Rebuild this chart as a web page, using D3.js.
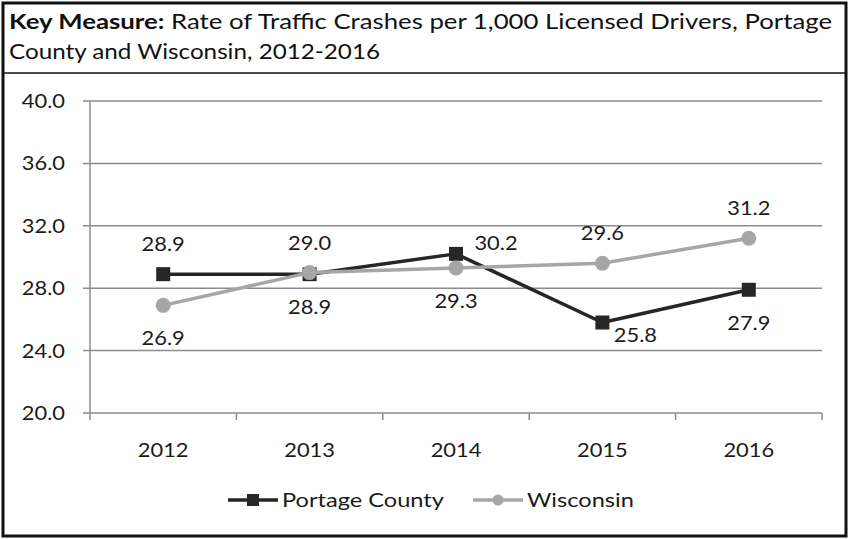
<!DOCTYPE html>
<html>
<head>
<meta charset="utf-8">
<script src="https://cdn.jsdelivr.net/npm/d3@7"></script>
<style>
  body { margin: 0; background: #fff; }
  text { font-family: Lato, "Open Sans", sans-serif; }
  .num { font-size: 19px; }
</style>
</head>
<body>
<div id="svg-container"></div>
<script>
const years = ["2012", "2013", "2014", "2015", "2016"]
const portage = [28.9, 28.9, 30.2, 25.8, 27.9]
const wisconsin = [26.9, 29.0, 29.3, 29.6, 31.2]
const yTicks = [20, 24, 28, 32, 36, 40]

// where each data label sits relative to its marker
const portageLabelPos = ["above", "below", "right", "belowRight", "below"]
const wisconsinLabelPos = ["below", "above", "below", "above", "above"]

const svg = d3.select("#svg-container")
  .append("svg")
    .attr("width", 850)
    .attr("height", 539)

// the source font (Calibri) is drawn wide, so widen glyphs a bit
const stretch = (sel, k) => sel.each(function() {
  const w = this.getComputedTextLength()
  d3.select(this)
    .attr("textLength", w * k)
    .attr("lengthAdjust", "spacingAndGlyphs")
})

// outer frame + title box
svg.append("rect")
  .attr("x", 3).attr("y", 3)
  .attr("width", 843).attr("height", 533)
  .attr("fill", "none")
  .attr("stroke", "#111")
  .attr("stroke-width", 3)

svg.append("line")
  .attr("x1", 3).attr("x2", 846)
  .attr("y1", 73).attr("y2", 73)
  .attr("stroke", "#111")
  .attr("stroke-width", 1.5)

const title1 = svg.append("text")
  .attr("x", 9).attr("y", 29)
  .attr("textLength", 823)
  .attr("lengthAdjust", "spacingAndGlyphs")
  .style("font-size", "21px")
  .attr("fill", "#111")
title1.append("tspan").style("font-weight", "bold").text("Key Measure:")
title1.append("tspan").text(" Rate of Traffic Crashes per 1,000 Licensed Drivers, Portage")

svg.append("text")
  .attr("x", 9).attr("y", 59)
  .attr("textLength", 371)
  .attr("lengthAdjust", "spacingAndGlyphs")
  .style("font-size", "21px")
  .attr("fill", "#111")
  .text("County and Wisconsin, 2012-2016")

const x = d3.scaleBand()
  .domain(years)
  .range([90, 822])

const y = d3.scaleLinear()
  .domain([20, 40])
  .range([413, 101])

// gridlines
svg.append("g")
  .selectAll("line")
  .data(yTicks)
  .join("line")
    .attr("x1", 83)
    .attr("x2", 822)
    .attr("y1", d => y(d))
    .attr("y2", d => y(d))
    .attr("stroke", "#8c8c8c")
    .attr("stroke-width", 1.5)

// y axis line
svg.append("line")
  .attr("x1", 90).attr("x2", 90)
  .attr("y1", y(40)).attr("y2", y(20) + 7)
  .attr("stroke", "#8c8c8c")
  .attr("stroke-width", 1.5)

// x ticks at band edges
svg.append("g")
  .selectAll("line")
  .data(years)
  .join("line")
    .attr("x1", d => x(d) + x.bandwidth())
    .attr("x2", d => x(d) + x.bandwidth())
    .attr("y1", y(20))
    .attr("y2", y(20) + 7)
    .attr("stroke", "#8c8c8c")
    .attr("stroke-width", 1.5)

// y tick labels
svg.append("g")
  .selectAll("text")
  .data(yTicks)
  .join("text")
    .attr("class", "num")
    .attr("x", 65)
    .attr("y", d => y(d) + 7)
    .attr("text-anchor", "end")
    .attr("fill", "#1a1a1a")
    .text(d => d.toFixed(1))
    .call(stretch, 1.15)

// x labels
svg.append("g")
  .selectAll("text")
  .data(years)
  .join("text")
    .attr("class", "num")
    .attr("x", d => x(d) + x.bandwidth() / 2)
    .attr("y", 457)
    .attr("text-anchor", "middle")
    .attr("fill", "#1a1a1a")
    .text(d => d)
    .call(stretch, 1.15)

const cx = d => x(d) + x.bandwidth() / 2
const line = d3.line()
  .x(d => cx(d.year))
  .y(d => y(d.value))

const wiData = years.map((yr, i) => ({ year: yr, value: wisconsin[i], pos: wisconsinLabelPos[i] }))
const pcData = years.map((yr, i) => ({ year: yr, value: portage[i], pos: portageLabelPos[i] }))

const wiColor = "#a6a6a6"
const pcColor = "#262626"

svg.append("path")
  .datum(pcData)
  .attr("d", line)
  .attr("fill", "none")
  .attr("stroke", pcColor)
  .attr("stroke-width", 3.5)
  .attr("stroke-linejoin", "round")

svg.append("g")
  .selectAll("rect")
  .data(pcData)
  .join("rect")
    .attr("x", d => cx(d.year) - 7)
    .attr("y", d => y(d.value) - 7)
    .attr("width", 14)
    .attr("height", 14)
    .attr("fill", pcColor)

svg.append("path")
  .datum(wiData)
  .attr("d", line)
  .attr("fill", "none")
  .attr("stroke", wiColor)
  .attr("stroke-width", 3.5)
  .attr("stroke-linejoin", "round")

svg.append("g")
  .selectAll("circle")
  .data(wiData)
  .join("circle")
    .attr("cx", d => cx(d.year))
    .attr("cy", d => y(d.value))
    .attr("r", 7.5)
    .attr("fill", wiColor)

const offsets = {
  above: [0, -23],
  below: [0, 40],
  right: [40, -4],
  belowRight: [33, 19]
}

svg.append("g")
  .selectAll("text")
  .data(pcData.concat(wiData))
  .join("text")
    .attr("class", "num")
    .attr("x", d => cx(d.year) + offsets[d.pos][0])
    .attr("y", d => y(d.value) + offsets[d.pos][1])
    .attr("text-anchor", "middle")
    .attr("fill", "#1a1a1a")
    .text(d => d.value.toFixed(1))
    .call(stretch, 1.15)

// legend
const legend = [
  { name: "Portage County", color: pcColor, shape: "square", x: 228 },
  { name: "Wisconsin", color: wiColor, shape: "circle", x: 473 }
]
const lg = svg.append("g")
  .selectAll("g")
  .data(legend)
  .join("g")
    .attr("transform", d => `translate(${d.x}, 500)`)

lg.append("line")
  .attr("x1", 0).attr("x2", 50)
  .attr("stroke", d => d.color)
  .attr("stroke-width", 3.5)

lg.filter(d => d.shape === "square")
  .append("rect")
    .attr("x", 19).attr("y", -6)
    .attr("width", 12).attr("height", 12)
    .attr("fill", d => d.color)

lg.filter(d => d.shape === "circle")
  .append("circle")
    .attr("cx", 25).attr("r", 5.5)
    .attr("fill", d => d.color)

lg.append("text")
  .attr("x", 54)
  .attr("y", 7)
  .style("font-size", "20px")
  .attr("fill", "#1a1a1a")
  .text(d => d.name)
  .call(stretch, 1.18)
</script>
</body>
</html>
